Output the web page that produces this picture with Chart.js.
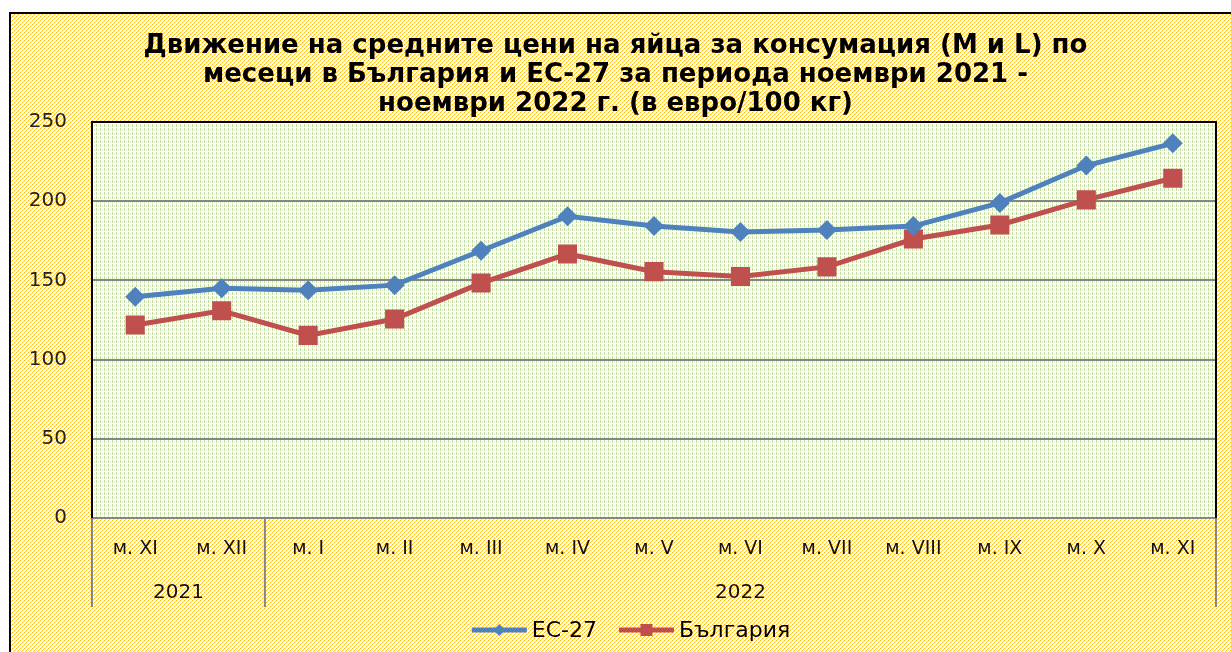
<!DOCTYPE html>
<html>
<head>
<meta charset="utf-8">
<script src="https://cdn.jsdelivr.net/npm/chart.js@4/dist/chart.umd.min.js"></script>
<style>
  html, body { margin: 0; padding: 0; background: #ffffff; }
  canvas { display: block; }
</style>
</head>
<body>
<canvas id="c" width="1231" height="652"></canvas>
<script>
// ---- data ----
const categories = ['м. XI', 'м. XII', 'м. I', 'м. II', 'м. III', 'м. IV', 'м. V', 'м. VI', 'м. VII', 'м. VIII', 'м. IX', 'м. X', 'м. XI'];
const yearGroups = ['2021', '2022'];
const yearGroupSizes = [2, 11];
const euValues = [139.7, 145.0, 143.7, 147.0, 168.7, 190.5, 184.3, 180.5, 181.8, 184.3, 198.9, 222.5, 236.5];
const bgValues = [121.8, 130.8, 115.3, 125.6, 148.3, 166.7, 155.5, 152.5, 158.5, 176.1, 185.0, 200.8, 214.5];
const seriesNames = ['ЕС-27', 'България'];
const titleLines = [
  'Движение на средните цени на яйца за консумация (M и L) по',
  'месеци в България и ЕС-27 за периода ноември 2021 -',
  'ноември 2022 г. (в евро/100 кг)'
];

// ---- patterns ----
function makeHatch() {
  const t = document.createElement('canvas');
  t.width = 8; t.height = 8;
  const c = t.getContext('2d');
  c.fillStyle = '#ffffff'; c.fillRect(0, 0, 8, 8);
  for (let x = 0; x < 8; x++) {
    for (let y = 0; y < 8; y++) {
      const m = (x + y) % 4;
      if (m === 0) { c.fillStyle = (x % 2 === 0) ? '#FFC000' : '#FFD55A'; c.fillRect(x, y, 1, 1); }
      else if (m === 1) { c.fillStyle = '#FFF0C4'; c.fillRect(x, y, 1, 1); }
    }
  }
  return t;
}
function makeGreen() {
  const t = document.createElement('canvas');
  t.width = 4; t.height = 4;
  const c = t.getContext('2d');
  c.fillStyle = '#ffffff'; c.fillRect(0, 0, 4, 4);
  c.fillStyle = '#C3DAA3'; c.fillRect(0, 0, 1, 3);
  c.fillStyle = '#E3EED5'; c.fillRect(2, 1, 1, 2);
  return t;
}
const hatchTile = makeHatch();
const greenTile = makeGreen();

const backgroundPlugin = {
  id: 'bgPlugin',
  beforeDraw(chart) {
    const ctx = chart.ctx;
    const a = chart.chartArea;
    ctx.save();
    ctx.fillStyle = '#ffffff';
    ctx.fillRect(0, 0, chart.width, chart.height);
    ctx.fillStyle = ctx.createPattern(hatchTile, 'repeat');
    ctx.fillRect(9, 12, chart.width, chart.height);
    ctx.strokeStyle = '#000000';
    ctx.lineWidth = 2;
    ctx.strokeRect(10, 13, chart.width + 10, chart.height + 10);
    ctx.fillStyle = ctx.createPattern(greenTile, 'repeat');
    ctx.fillRect(a.left, a.top, a.right - a.left, a.bottom - a.top);
    ctx.restore();
  },
  beforeDatasetsDraw(chart) {
    const ctx = chart.ctx;
    const a = chart.chartArea;
    ctx.save();
    ctx.strokeStyle = '#000000';
    ctx.lineWidth = 2;
    ctx.beginPath();
    ctx.moveTo(a.left, a.top);
    ctx.lineTo(a.right, a.top);
    ctx.lineTo(a.right, a.bottom);
    ctx.stroke();
    ctx.restore();
  },
  afterDraw(chart) {
    const ctx = chart.ctx;
    const a = chart.chartArea;
    const xs = chart.scales.x;
    const half = (xs.getPixelForValue(1) - xs.getPixelForValue(0)) / 2;
    ctx.save();
    // group separators + year labels
    ctx.strokeStyle = '#868686';
    ctx.lineWidth = 2;
    let idx = 0;
    const bounds = [xs.getPixelForValue(0) - half];
    yearGroupSizes.forEach(n => { idx += n; bounds.push(xs.getPixelForValue(idx - 1) + half); });
    bounds.forEach(bx => {
      ctx.beginPath();
      ctx.moveTo(bx, a.bottom);
      ctx.lineTo(bx, 607);
      ctx.stroke();
    });
    ctx.fillStyle = '#111111';
    ctx.font = '20px "DejaVu Sans"';
    ctx.textAlign = 'center';
    ctx.textBaseline = 'middle';
    yearGroups.forEach((g, i) => {
      ctx.fillText(g, (bounds[i] + bounds[i + 1]) / 2, 593);
    });

    // legend
    ctx.font = '22px "DejaVu Sans"';
    ctx.textAlign = 'left';
    const sample = 55, gapT = 5, gapItems = 22;
    const items = chart.data.datasets.map(ds => ({ ds, w: sample + gapT + ctx.measureText(ds.label).width }));
    const total = items.reduce((s, it) => s + it.w, 0) + gapItems * (items.length - 1);
    let lx = 631 - total / 2;
    const ly = 630;
    items.forEach(it => {
      const ds = it.ds;
      ctx.strokeStyle = ds.borderColor;
      ctx.lineWidth = 5;
      ctx.beginPath();
      ctx.moveTo(lx, ly);
      ctx.lineTo(lx + sample, ly);
      ctx.stroke();
      const cx = lx + sample / 2;
      ctx.fillStyle = ds.pointBackgroundColor;
      ctx.beginPath();
      if (ds.pointStyle === 'rectRot') {
        const r = 6;
        ctx.moveTo(cx, ly - r); ctx.lineTo(cx + r, ly); ctx.lineTo(cx, ly + r); ctx.lineTo(cx - r, ly); ctx.closePath();
      } else {
        const s = 6;
        ctx.rect(cx - s, ly - s, 2 * s, 2 * s);
      }
      ctx.fill();
      ctx.fillStyle = '#000000';
      ctx.textBaseline = 'middle';
      ctx.fillText(ds.label, lx + sample + gapT, ly + 1);
      lx += it.w + gapItems;
    });
    ctx.restore();
  }
};

new Chart(document.getElementById('c'), {
  type: 'line',
  data: {
    labels: categories,
    datasets: [
      {
        label: seriesNames[0],
        data: euValues,
        borderColor: '#4F81BD',
        backgroundColor: '#4F81BD',
        pointBackgroundColor: '#4F81BD',
        pointBorderColor: '#4F81BD',
        borderWidth: 5,
        pointStyle: 'rectRot',
        pointRadius: 10,
        pointBorderWidth: 0,
        pointHoverRadius: 10,
        tension: 0
      },
      {
        label: seriesNames[1],
        data: bgValues,
        borderColor: '#C0504D',
        backgroundColor: '#C0504D',
        pointBackgroundColor: '#C0504D',
        pointBorderColor: '#C0504D',
        borderWidth: 5,
        pointStyle: 'rect',
        pointRadius: 13.5,
        pointBorderWidth: 0,
        pointHoverRadius: 13.5,
        tension: 0
      }
    ]
  },
  options: {
    responsive: false,
    animation: false,
    devicePixelRatio: 1,
    layout: { padding: { top: 0, left: 15, right: 15, bottom: 34 } },
    plugins: {
      legend: { display: false },
      tooltip: { enabled: false },
      title: {
        display: true,
        text: titleLines,
        color: '#000000',
        font: { family: 'DejaVu Sans', size: 26, weight: 'bold', lineHeight: 1.115 },
        padding: { top: 32, bottom: 3 }
      }
    },
    scales: {
      x: {
        type: 'category',
        offset: true,
        grid: { display: false, drawTicks: false },
        border: { display: true, color: '#868686', width: 2 },
        ticks: {
          color: '#111111',
          font: { family: 'DejaVu Sans', size: 19 },
          padding: 20,
          maxRotation: 0,
          autoSkip: false
        },
        afterFit(scale) { scale.height = 100; }
      },
      y: {
        min: 0,
        max: 250,
        ticks: {
          stepSize: 50,
          color: '#222222',
          font: { family: 'DejaVu Sans', size: 20 },
          padding: 25
        },
        grid: { color: '#868686', lineWidth: 2, drawTicks: false },
        border: { display: true, color: '#000000', width: 2 },
        afterFit(scale) { scale.width = 77; }
      }
    }
  },
  plugins: [backgroundPlugin]
});
</script>
</body>
</html>
